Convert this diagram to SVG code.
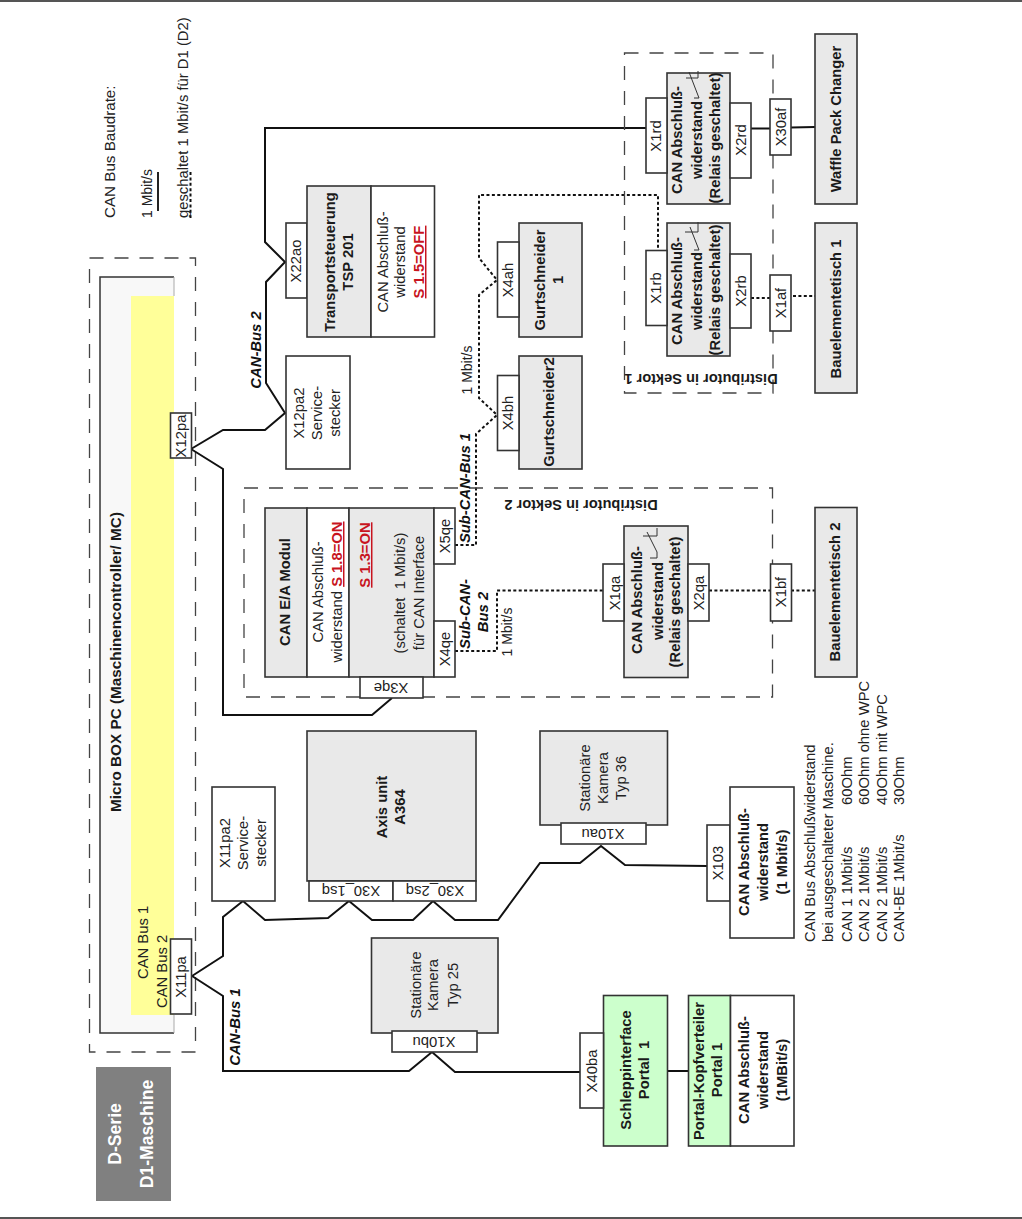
<svg xmlns="http://www.w3.org/2000/svg" width="1022" height="1219" viewBox="0 0 1022 1219">
<defs><style>
text{font-family:"Liberation Sans",Arial,sans-serif;font-size:14.8px;fill:#222;text-anchor:middle}
.b{font-weight:bold;fill:#1a1a1a}
.i{font-weight:bold;font-style:italic;fill:#111}
.r{font-weight:bold;fill:#c8141e;text-decoration:underline}
.s{text-anchor:start}
.w{fill:#fff;font-weight:bold;font-size:17.6px}
.g{fill:#e9e9e9;stroke:#333;stroke-width:1.6}
.n{fill:#fff;stroke:#333;stroke-width:1.6}
.c{fill:#ccffcc;stroke:#333;stroke-width:1.6}
.d{fill:none;stroke:#444;stroke-width:1.3;stroke-dasharray:14 11}
.bus{fill:none;stroke:#111;stroke-width:2;stroke-linejoin:miter}
.sub{fill:none;stroke:#111;stroke-width:2;stroke-dasharray:3 2.4}
.sy{fill:none;stroke:#333;stroke-width:1}
.ds{font-size:14.6px}
</style></defs>
<rect width="1022" height="1219" fill="#fff"/>
<path d="M0 1H1022M0 1218H1022" stroke="#555" stroke-width="2"/>

<g id="legend">
<text class="s" transform="translate(115,218) rotate(-90)" style="font-size:15.2px">CAN Bus Baudrate:</text>
<text class="s" transform="translate(152,218) rotate(-90)" style="font-size:14px">1 Mbit/s</text>
<text class="s" transform="translate(188,218) rotate(-90)">geschaltet 1 Mbit/s für D1 (D2)</text>
<path d="M158 172V211" stroke="#222" stroke-width="2"/>
<path d="M190.500 172V218" class="sub"/>
</g>

<g id="microbox">
<rect x="89.500" y="258" width="106" height="794" class="d"/>
<rect x="100" y="277" width="74" height="756" fill="#f8f8f8"/>
<rect x="131" y="296" width="43" height="719" fill="#ffff99"/>
<path d="M174 277H100V1033H174" fill="none" stroke="#333" stroke-width="1.500"/>
<path d="M174 277V296M174 1015V1033" fill="none" stroke="#aaa" stroke-width="1"/>
<text class="b" transform="translate(121,662) rotate(-90)" style="font-size:15.3px">Micro BOX PC (Maschinencontroller/ MC)</text>
<text class="s" transform="translate(148,979) rotate(-90)">CAN Bus 1</text>
<text class="s" transform="translate(167,1008) rotate(-90)">CAN Bus 2</text>
</g>

<g id="dseries">
<rect x="96" y="1067" width="75" height="134" fill="#808080"/>
<text class="w" transform="translate(121,1134) rotate(-90)">D-Serie</text>
<text class="w" transform="translate(153,1134) rotate(-90)">D1-Maschine</text>
</g>

<g id="connectors">
<path class="bus" d="M191 449L223 430H265L285 413L266 383V282L285 262L265 242V128H646"/>
<path class="bus" d="M191 449L223 469V715H372L392 698"/>
<path class="bus" d="M192 976L223 956V917L243 901L265 920L328 918L349 901L372 920H413L433 901L455 920H498L540 863H580L601 846L625 865L707 866"/>
<path class="bus" d="M192 976L223 996V1071H409L432 1052L455 1072H581"/>
<path class="bus" d="M667.500 1071H688M751 128.500H770M791 127.500L815 127"/>
<path class="sub" d="M455 545H476V434L497 415L479 398V295L497 280L479 258V195H658V250"/>
<path class="sub" d="M455 651H497V590.500H604"/>
<path class="sub" d="M709 590.500H771M791 590.500H815"/>
<path class="sub" d="M751 298H770M793 296H815"/>
</g>

<g id="distributor1">
<rect x="624.500" y="53" width="148.500" height="340" class="d"/>
<text class="b ds" transform="translate(701,374) rotate(180)">Distributor in Sektor 1</text>
</g>
<g id="distributor2">
<rect x="244" y="488" width="528.500" height="209" class="d"/>
<text class="b ds" transform="translate(581,500) rotate(180)">Distributor in Sektor 2</text>
</g>

<g id="x12pa"><rect x="170.500" y="413" width="21" height="45" class="n"/><text transform="translate(186,436) rotate(-90)">X12pa</text></g>
<g id="x11pa"><rect x="170.500" y="939" width="21" height="75" class="n"/><text transform="translate(186,977) rotate(-90)">X11pa</text></g>

<g id="x22ao"><rect x="286" y="223" width="21" height="75" class="n"/><text transform="translate(301,261) rotate(-90)">X22ao</text></g>
<g id="tsp201">
<rect x="307" y="186" width="64" height="151" class="g"/><rect x="371" y="186" width="63.500" height="151" class="n"/>
<text class="b" transform="translate(335,262) rotate(-90)">Transportsteuerung</text>
<text class="b" transform="translate(352.500,262) rotate(-90)">TSP 201</text>
<text transform="translate(388,262) rotate(-90)">CAN Abschluß-</text>
<text transform="translate(405,262) rotate(-90)">widerstand</text>
<text class="r" transform="translate(424,262) rotate(-90)">S 1.5=OFF</text>
</g>
<g id="x12pa2"><rect x="286" y="356" width="64" height="113" class="n"/>
<text transform="translate(304,413) rotate(-90)">X12pa2</text>
<text transform="translate(322,413) rotate(-90)">Service-</text>
<text transform="translate(340,413) rotate(-90)">stecker</text></g>

<g id="gurt1"><rect x="519" y="223" width="63" height="114" class="g"/>
<text class="b" transform="translate(545,280) rotate(-90)">Gurtschneider</text>
<text class="b" transform="translate(563,280) rotate(-90)">1</text></g>
<g id="x4ah"><rect x="497.500" y="242" width="21.500" height="75" class="n"/><text transform="translate(513,280) rotate(-90)">X4ah</text></g>
<g id="gurt2"><rect x="519" y="356" width="63" height="113" class="g"/>
<text class="b" transform="translate(554,412) rotate(-90)">Gurtschneider2</text></g>
<g id="x4bh"><rect x="497.500" y="375.500" width="21.500" height="75" class="n"/><text transform="translate(513,413) rotate(-90)">X4bh</text></g>

<g id="relay-rd"><rect x="667" y="73" width="63" height="131" class="g"/>
<text class="b" transform="translate(682,140) rotate(-90)">CAN Abschluß-</text>
<text class="b" transform="translate(702,140) rotate(-90)">widerstand</text>
<text class="b" transform="translate(720,138) rotate(-90)">(Relais geschaltet)</text>
<path class="sy" d="M698 71V78H686M689 72L699 98H694"/></g>
<g id="x1rd"><rect x="646" y="98" width="21" height="75" class="n"/><text transform="translate(661,136) rotate(-90)">X1rd</text></g>
<g id="x2rd"><rect x="730" y="103" width="21" height="75" class="n"/><text transform="translate(745.500,140) rotate(-90)">X2rd</text></g>
<g id="x30af"><rect x="770" y="99" width="21" height="56" class="n"/><text transform="translate(786,127) rotate(-90)">X30af</text></g>
<g id="waffle"><rect x="815" y="34" width="42" height="170" class="g"/><text class="b" transform="translate(841,119) rotate(-90)">Waffle Pack Changer</text></g>

<g id="relay-rb"><rect x="667" y="223" width="63" height="133" class="g"/>
<text class="b" transform="translate(682,291) rotate(-90)">CAN Abschluß-</text>
<text class="b" transform="translate(702,291) rotate(-90)">widerstand</text>
<text class="b" transform="translate(720,290) rotate(-90)">(Relais geschaltet)</text>
<path class="sy" d="M698 222V232H685M690 227L699 250H694"/></g>
<g id="x1rb"><rect x="646" y="250.500" width="21" height="75" class="n"/><text transform="translate(661,288) rotate(-90)">X1rb</text></g>
<g id="x2rb"><rect x="730" y="254" width="21" height="74" class="n"/><text transform="translate(745.500,291) rotate(-90)">X2rb</text></g>
<g id="x1af"><rect x="770" y="275" width="21" height="56" class="n"/><text transform="translate(786,303) rotate(-90)">X1af</text></g>
<g id="baue1"><rect x="815" y="223" width="42" height="170" class="g"/><text class="b" transform="translate(841,309) rotate(-90)">Bauelementetisch 1</text></g>

<g id="canea">
<rect x="265" y="508" width="42" height="169" class="g"/><rect x="307" y="508" width="42" height="169" class="n"/><rect x="349" y="508" width="85" height="169" class="g"/>
<text class="b" transform="translate(290,592) rotate(-90)">CAN E/A Modul</text>
<text transform="translate(323,592) rotate(-90)">CAN Abschluß-</text>
<text transform="translate(342,592) rotate(-90)">widerstand <tspan class="r">S 1.8=ON</tspan></text>
<text class="r" transform="translate(370,555) rotate(-90)">S 1.3=ON</text>
<text transform="translate(405,593) rotate(-90)" xml:space="preserve">(schaltet  1 Mbit/s)</text>
<text transform="translate(424,593) rotate(-90)">für CAN Interface</text>
</g>
<g id="x3qe"><rect x="360" y="677" width="63" height="21" class="n"/><text transform="translate(391,683) rotate(180)">X3qe</text></g>
<g id="x5qe"><rect x="434" y="508" width="21" height="56" class="n"/><text transform="translate(449.500,536) rotate(-90)">X5qe</text></g>
<g id="x4qe"><rect x="434" y="621" width="21" height="56" class="n"/><text transform="translate(449.500,649) rotate(-90)">X4qe</text></g>

<g id="relay-qa"><rect x="624" y="526" width="64" height="151.500" class="g"/>
<text class="b" transform="translate(642,600) rotate(-90)">CAN Abschluß-</text>
<text class="b" transform="translate(663,601) rotate(-90)">widerstand</text>
<text class="b" transform="translate(680,602) rotate(-90)">(Relais geschaltet)</text>
<path class="sy" d="M657 528V536H643M647 532L657 552V558H650"/></g>
<g id="x1qa"><rect x="603" y="564" width="21" height="57" class="n"/><text transform="translate(620,593) rotate(-90)">X1qa</text></g>
<g id="x2qa"><rect x="688" y="564" width="21" height="57" class="n"/><text transform="translate(704,593) rotate(-90)">X2qa</text></g>
<g id="x1bf"><rect x="770.500" y="564" width="21" height="57" class="n"/><text transform="translate(786,592) rotate(-90)">X1bf</text></g>
<g id="baue2"><rect x="815" y="507.500" width="42" height="169.500" class="g"/><text class="b" transform="translate(840,592) rotate(-90)">Bauelementetisch 2</text></g>

<g id="axis"><rect x="307" y="731" width="169" height="150" class="g"/>
<text class="b" transform="translate(387,807) rotate(-90)">Axis unit</text>
<text class="b" transform="translate(405,807) rotate(-90)">A364</text></g>
<g id="x30-1sq"><rect x="309" y="881" width="84" height="20" class="n"/><text transform="translate(351,886) rotate(180)">X30_1sq</text></g>
<g id="x30-2sq"><rect x="393" y="881" width="83" height="20" class="n"/><text transform="translate(435,886) rotate(180)">X30_2sq</text></g>
<g id="x11pa2"><rect x="212" y="787" width="63" height="114" class="n"/>
<text transform="translate(230,843) rotate(-90)">X11pa2</text>
<text transform="translate(248,843) rotate(-90)">Service-</text>
<text transform="translate(266,843) rotate(-90)">stecker</text></g>

<g id="kamera25"><rect x="371.500" y="938" width="126.500" height="95" class="g"/>
<text transform="translate(421,985) rotate(-90)">Stationäre</text>
<text transform="translate(438,985) rotate(-90)">Kamera</text>
<text transform="translate(458,985) rotate(-90)">Typ 25</text></g>
<g id="x10bu"><rect x="392" y="1031" width="85" height="21" class="n"/><text transform="translate(434,1037) rotate(180)">X10bu</text></g>
<g id="kamera36"><rect x="540" y="731" width="127.500" height="94" class="g"/>
<text transform="translate(590,778) rotate(-90)">Stationäre</text>
<text transform="translate(608,778) rotate(-90)">Kamera</text>
<text transform="translate(626,778) rotate(-90)">Typ 36</text></g>
<g id="x10au"><rect x="561" y="823" width="85" height="21" class="n"/><text transform="translate(603,829) rotate(180)">X10au</text></g>
<g id="x103"><rect x="707" y="825" width="23" height="76" class="n"/><text transform="translate(723,863) rotate(-90)">X103</text></g>
<g id="term1"><rect x="730" y="787" width="64" height="151" class="n"/>
<text class="b" transform="translate(749,862) rotate(-90)">CAN Abschluß-</text>
<text class="b" transform="translate(768,862) rotate(-90)">widerstand</text>
<text class="b" transform="translate(787,862) rotate(-90)">(1 Mbit/s)</text></g>

<g id="schlepp"><rect x="603.500" y="995.500" width="64" height="150.500" class="c"/>
<text class="b" transform="translate(631,1070) rotate(-90)">Schleppinterface</text>
<text class="b" transform="translate(649,1070) rotate(-90)" xml:space="preserve">Portal  1</text></g>
<g id="x40ba"><rect x="580" y="1033" width="23.500" height="75" class="n"/><text transform="translate(597,1071) rotate(-90)">X40ba</text></g>
<g id="kopf"><rect x="688.500" y="995.500" width="42" height="150.500" class="c"/><rect x="730.500" y="995.500" width="63.500" height="150.500" class="n"/>
<text class="b" transform="translate(704,1071) rotate(-90)">Portal-Kopfverteiler</text>
<text class="b" transform="translate(722,1070) rotate(-90)">Portal 1</text>
<text class="b" transform="translate(749,1070) rotate(-90)">CAN Abschluß-</text>
<text class="b" transform="translate(768,1070) rotate(-90)">widerstand</text>
<text class="b" transform="translate(787,1070) rotate(-90)">(1MBit/s)</text></g>

<g id="labels">
<text class="i" transform="translate(240,1027) rotate(-90)">CAN-Bus 1</text>
<text class="i" transform="translate(261,350) rotate(-90)">CAN-Bus 2</text>
<text class="i" transform="translate(470,488) rotate(-90)">Sub-CAN-Bus 1</text>
<text class="i" transform="translate(470,614) rotate(-90)">Sub-CAN-</text>
<text class="i" transform="translate(488,612) rotate(-90)">Bus 2</text>
<text transform="translate(472,370) rotate(-90)" style="font-size:14px">1 Mbit/s</text>
<text transform="translate(512,632) rotate(-90)" style="font-size:14px">1 Mbit/s</text>
</g>

<g id="notes">
<text class="s" transform="translate(815,942) rotate(-90)">CAN Bus Abschlußwiderstand</text>
<text class="s" transform="translate(833,942) rotate(-90)">bei ausgeschalteter Maschine.</text>
<text class="s" transform="translate(852,942) rotate(-90)">CAN 1 1Mbit/s</text>
<text class="s" transform="translate(869,942) rotate(-90)">CAN 2 1Mbit/s</text>
<text class="s" transform="translate(887,942) rotate(-90)">CAN 2 1Mbit/s</text>
<text class="s" transform="translate(904,942) rotate(-90)">CAN-BE 1Mbit/s</text>
<text class="s" transform="translate(852,805) rotate(-90)">60Ohm</text>
<text class="s" transform="translate(869,805) rotate(-90)">60Ohm ohne WPC</text>
<text class="s" transform="translate(887,805) rotate(-90)">40Ohm mit WPC</text>
<text class="s" transform="translate(904,805) rotate(-90)">30Ohm</text>
</g>
</svg>
